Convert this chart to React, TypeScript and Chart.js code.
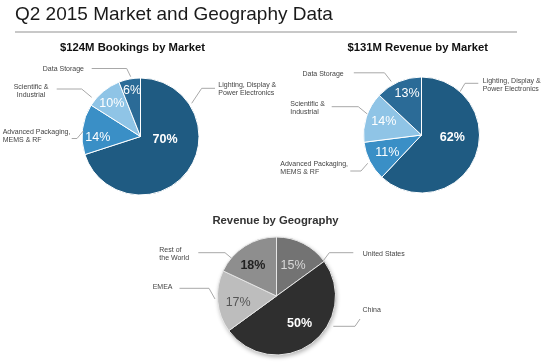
import React, { useEffect, useRef } from 'react';
import { Chart, registerables } from 'chart.js';

Chart.register(...registerables);

const FONT = "'Liberation Sans', Arial, Helvetica, sans-serif";
const W = 542;
const H = 362;

// ---- data ----
const pageTitle = 'Q2 2015 Market and Geography Data';
const bookingsTitle = '$124M Bookings by Market';
const revenueTitle = '$131M Revenue by Market';
const geoTitle = 'Revenue by Geography';

const marketLabels = [
  'Lighting, Display & Power Electronics',
  'Advanced Packaging, MEMS & RF',
  'Scientific & Industrial',
  'Data Storage',
];
const marketLabelLines = [
  ['Lighting, Display &', 'Power Electronics'],
  ['Advanced Packaging,', 'MEMS & RF'],
  ['Scientific &', 'Industrial'],
  ['Data Storage'],
];
const bookingsValues = [70, 14, 10, 6];
const revenueValues = [62, 11, 14, 13];

const geoLabels = ['United States', 'China', 'EMEA', 'Rest of the World'];
const geoLabelLines = [['United States'], ['China'], ['EMEA'], ['Rest of', 'the World']];
const geoValues = [15, 50, 17, 18];

// ---- styles ----
const marketColors = ['#1f5b82', '#3a8fc6', '#8fc4e6', '#2b6b97'];
const geoColors = ['#737373', '#2f2f2f', '#bdbdbd', '#8e8e8e'];

type Callout = { pts: number[][]; tx: number; ty: number; align: CanvasTextAlign };
type Inner = { pos: number[]; color: string; bold: boolean };

const calloutPlugin = {
  id: 'callouts',
  beforeDatasetsDraw(chart: any, _a: any, opts: any) {
    if (!opts.shadow) return;
    const arc = chart.getDatasetMeta(0).data[0];
    const ctx = chart.ctx;
    ctx.save();
    ctx.shadowColor = 'rgba(0,0,0,0.3)';
    ctx.shadowBlur = 4;
    ctx.shadowOffsetX = 1;
    ctx.shadowOffsetY = 2;
    ctx.fillStyle = '#ffffff';
    ctx.beginPath();
    ctx.arc(arc.x, arc.y, arc.outerRadius, 0, Math.PI * 2);
    ctx.fill();
    ctx.restore();
  },
  afterDatasetsDraw(chart: any, _a: any, opts: any) {
    const ctx = chart.ctx;
    const meta = chart.getDatasetMeta(0);
    const ds = chart.data.datasets[0];
    const cx = meta.data[0].x;
    const cy = meta.data[0].y;
    const r = meta.data[0].outerRadius;
    ctx.save();
    if (opts.pageTitle) {
      ctx.font = `19px ${FONT}`;
      ctx.fillStyle = '#1a1a1a';
      ctx.textAlign = 'left';
      ctx.textBaseline = 'alphabetic';
      ctx.fillText(opts.pageTitle, 15, 19.5);
      ctx.fillStyle = '#c8c8c8';
      ctx.fillRect(15, 31, 502, 2);
    }
    // chart title
    ctx.font = `bold 11.3px ${FONT}`;
    ctx.fillStyle = opts.titleColor;
    ctx.textAlign = 'center';
    ctx.textBaseline = 'middle';
    ctx.fillText(opts.title, cx + opts.titlePos[0], cy + opts.titlePos[1]);

    meta.data.forEach((_arc: any, i: number) => {
      const inner: Inner = opts.inner[i];
      ctx.font = `${inner.bold ? 'bold ' : ''}12.5px ${FONT}`;
      ctx.fillStyle = inner.color;
      ctx.textAlign = 'center';
      ctx.textBaseline = 'middle';
      ctx.fillText(ds.data[i] + '%', cx + inner.pos[0] * r, cy + inner.pos[1] * r);

      const c: Callout = opts.callouts[i];
      ctx.strokeStyle = '#a8a8a8';
      ctx.lineWidth = 1;
      ctx.beginPath();
      c.pts.forEach((p, k) => {
        if (k === 0) ctx.moveTo(cx + p[0], cy + p[1]);
        else ctx.lineTo(cx + p[0], cy + p[1]);
      });
      ctx.stroke();

      ctx.font = `7px ${FONT}`;
      ctx.fillStyle = '#444444';
      ctx.textAlign = c.align;
      const lines: string[] = opts.lines[i];
      lines.forEach((ln, k) => ctx.fillText(ln, cx + c.tx, cy + c.ty + k * 8.1));
    });
    ctx.restore();
  },
};

type PieProps = {
  labels: string[];
  values: number[];
  colors: string[];
  borderColor: string;
  radius: number;
  padding: { left: number; right: number; top: number; bottom: number };
  plugin: any;
};

function Pie(props: PieProps) {
  const ref = useRef<HTMLCanvasElement | null>(null);
  useEffect(() => {
    if (!ref.current) return;
    const chart = new Chart(ref.current, {
      type: 'pie',
      data: {
        labels: props.labels,
        datasets: [
          {
            data: props.values,
            backgroundColor: props.colors,
            borderColor: props.borderColor,
            borderWidth: 1,
          },
        ],
      },
      options: {
        animation: false,
        responsive: false,
        events: [],
        radius: props.radius,
        layout: { padding: props.padding },
        plugins: {
          legend: { display: false },
          title: { display: false },
          tooltip: { enabled: false },
          callouts: props.plugin,
        } as any,
      } as any,
      plugins: [calloutPlugin],
    });
    return () => chart.destroy();
  }, []);
  return (
    <canvas
      ref={ref}
      width={W}
      height={H}
      style={{ position: 'absolute', left: 0, top: 0, width: W, height: H }}
    />
  );
}

export default function App() {
  return (
    <div style={{ position: 'absolute', left: 0, top: 0, width: W, height: H, background: '#ffffff' }}>
      <Pie
        labels={marketLabels}
        values={bookingsValues}
        colors={marketColors}
        borderColor="#ffffff"
        radius={58.5}
        padding={{ left: 0, right: 261, top: 0, bottom: 89 }}
        plugin={{
          pageTitle,
          title: bookingsTitle,
          titleColor: '#111111',
          titlePos: [-8, -88.5],
          lines: marketLabelLines,
          inner: [
            { pos: [0.42, 0.06], color: '#ffffff', bold: true },
            { pos: [-0.73, 0.01], color: '#ffffff', bold: false },
            { pos: [-0.49, -0.57], color: '#ffffff', bold: false },
            { pos: [-0.145, -0.79], color: '#ffffff', bold: false },
          ],
          callouts: [
            { pts: [[51.2, -33.2], [61.2, -48.2], [74.5, -48.2]], tx: 77.8, ty: -51.5, align: 'left' },
            { pts: [[-57.2, -5.5], [-63.5, 2], [-68.8, 2]], tx: -137.8, ty: -4.8, align: 'left' },
            { pts: [[-48.8, -39.2], [-58.8, -47.5], [-83.8, -47.5]], tx: -109.5, ty: -49.8, align: 'center' },
            { pts: [[-9.8, -59.8], [-13.8, -68], [-48.8, -68]], tx: -56.5, ty: -67.2, align: 'right' },
          ],
        }}
      />
      <Pie
        labels={marketLabels}
        values={revenueValues}
        colors={marketColors}
        borderColor="#ffffff"
        radius={58}
        padding={{ left: 301, right: 0, top: 0, bottom: 92 }}
        plugin={{
          title: revenueTitle,
          titleColor: '#111111',
          titlePos: [-3.8, -87],
          lines: marketLabelLines,
          inner: [
            { pos: [0.53, 0.05], color: '#ffffff', bold: true },
            { pos: [-0.59, 0.31], color: '#ffffff', bold: false },
            { pos: [-0.65, -0.24], color: '#ffffff', bold: false },
            { pos: [-0.25, -0.72], color: '#ffffff', bold: false },
          ],
          callouts: [
            { pts: [[38.5, -43.3], [43.5, -51.7], [56.8, -51.7]], tx: 61.2, ty: -54.3, align: 'left' },
            { pts: [[-53.8, 28.3], [-60.5, 36], [-71.2, 36]], tx: -141.2, ty: 29, align: 'left' },
            { pts: [[-54.2, -21], [-63.2, -28.3], [-89.8, -28.3]], tx: -131.2, ty: -30.7, align: 'left' },
            { pts: [[-30.2, -53.5], [-37, -62.2], [-67.7, -62.2]], tx: -77.8, ty: -61, align: 'right' },
          ],
        }}
      />
      <Pie
        labels={geoLabels}
        values={geoValues}
        colors={geoColors}
        borderColor="#e6e6e6"
        radius={59}
        padding={{ left: 11, right: 0, top: 230, bottom: 0 }}
        plugin={{
          shadow: true,
          title: geoTitle,
          titleColor: '#333333',
          titlePos: [-1, -75.5],
          lines: geoLabelLines,
          inner: [
            { pos: [0.28, -0.51], color: '#d8d8d8', bold: false },
            { pos: [0.39, 0.47], color: '#ffffff', bold: true },
            { pos: [-0.65, 0.11], color: '#555555', bold: false },
            { pos: [-0.4, -0.51], color: '#222222', bold: true },
          ],
          callouts: [
            { pts: [[46.8, -35.3], [52.8, -43.3], [76.8, -43.3]], tx: 86.2, ty: -42, align: 'left' },
            { pts: [[56.8, 30.3], [78.5, 30.3], [83.5, 23]], tx: 86, ty: 14.5, align: 'left' },
            { pts: [[-61.5, 3], [-67.5, -7.7], [-97, -7.7]], tx: -123.8, ty: -8.5, align: 'left' },
            { pts: [[-44.8, -37.7], [-51.5, -43.3], [-78.2, -43.3]], tx: -117.2, ty: -46, align: 'left' },
          ],
        }}
      />
    </div>
  );
}
